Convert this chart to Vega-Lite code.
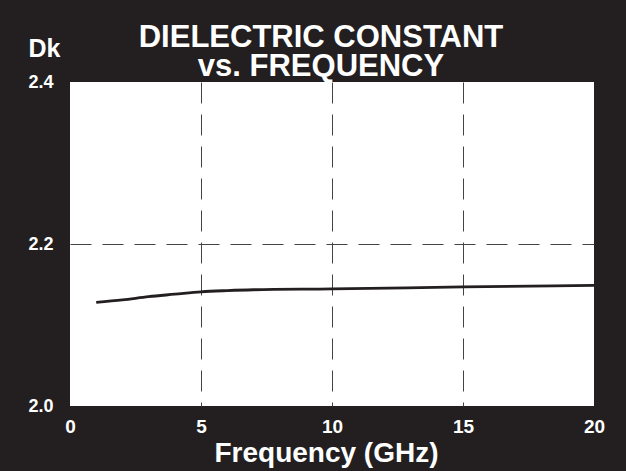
{
  "$schema": "https://vega.github.io/schema/vega-lite/v6.json",
  "autosize": "none",
  "width": 524,
  "height": 324,
  "padding": {"left": 70, "top": 82, "right": 32, "bottom": 65},
  "background": "#231f20",
  "title": {
    "text": ["DIELECTRIC CONSTANT", "vs. FREQUENCY"],
    "font": "Liberation Sans",
    "fontSize": 31,
    "fontWeight": "bold",
    "color": "white",
    "lineHeight": 29,
    "anchor": "middle",
    "dx": -11,
    "offset": -47
  },
  "data": {
    "values": [
      {"f": 1, "dk": 2.128},
      {"f": 2, "dk": 2.131},
      {"f": 3, "dk": 2.135},
      {"f": 4, "dk": 2.138},
      {"f": 5, "dk": 2.141},
      {"f": 6, "dk": 2.1425},
      {"f": 7, "dk": 2.1435},
      {"f": 10, "dk": 2.1445},
      {"f": 15, "dk": 2.147},
      {"f": 20, "dk": 2.149}
    ]
  },
  "mark": {"type": "line", "color": "#231f20", "strokeWidth": 2.8, "interpolate": "monotone"},
  "encoding": {
    "x": {
      "field": "f",
      "type": "quantitative",
      "scale": {"domain": [0, 20], "nice": false},
      "axis": {
        "values": [0, 5, 10, 15, 20],
        "title": "Frequency (GHz)",
        "titleFontSize": 28,
        "titlePadding": 3,
        "titleX": 256,
        "labelPadding": 11,
        "labelFontSize": 19
      }
    },
    "y": {
      "field": "dk",
      "type": "quantitative",
      "scale": {"domain": [2.0, 2.4], "nice": false, "zero": false},
      "axis": {
        "values": [2.0, 2.2, 2.4],
        "format": ".1f",
        "title": "Dk",
        "titleAngle": 0,
        "titleFontSize": 25,
        "titleAlign": "center",
        "titleBaseline": "middle",
        "titleX": -26,
        "titleY": -34,
        "labelPadding": 17,
        "labelAlign": "right"
      }
    }
  },
  "config": {
    "view": {"fill": "white", "stroke": null},
    "axis": {
      "domain": false,
      "ticks": false,
      "labelColor": "white",
      "labelFont": "Liberation Sans",
      "labelFontSize": 18,
      "labelFontWeight": "bold",
      "labelOverlap": false,
      "labelFlush": false,
      "titleColor": "white",
      "titleFont": "Liberation Sans",
      "titleFontWeight": "bold",
      "grid": true,
      "gridColor": "#444444",
      "gridWidth": 1,
      "gridDash": [21, 11],
      "gridOpacity": {"condition": {"test": "datum.value == 0 || datum.value == 20 || datum.value == 2.0 || datum.value == 2.4", "value": 0}, "value": 1}
    }
  }
}
